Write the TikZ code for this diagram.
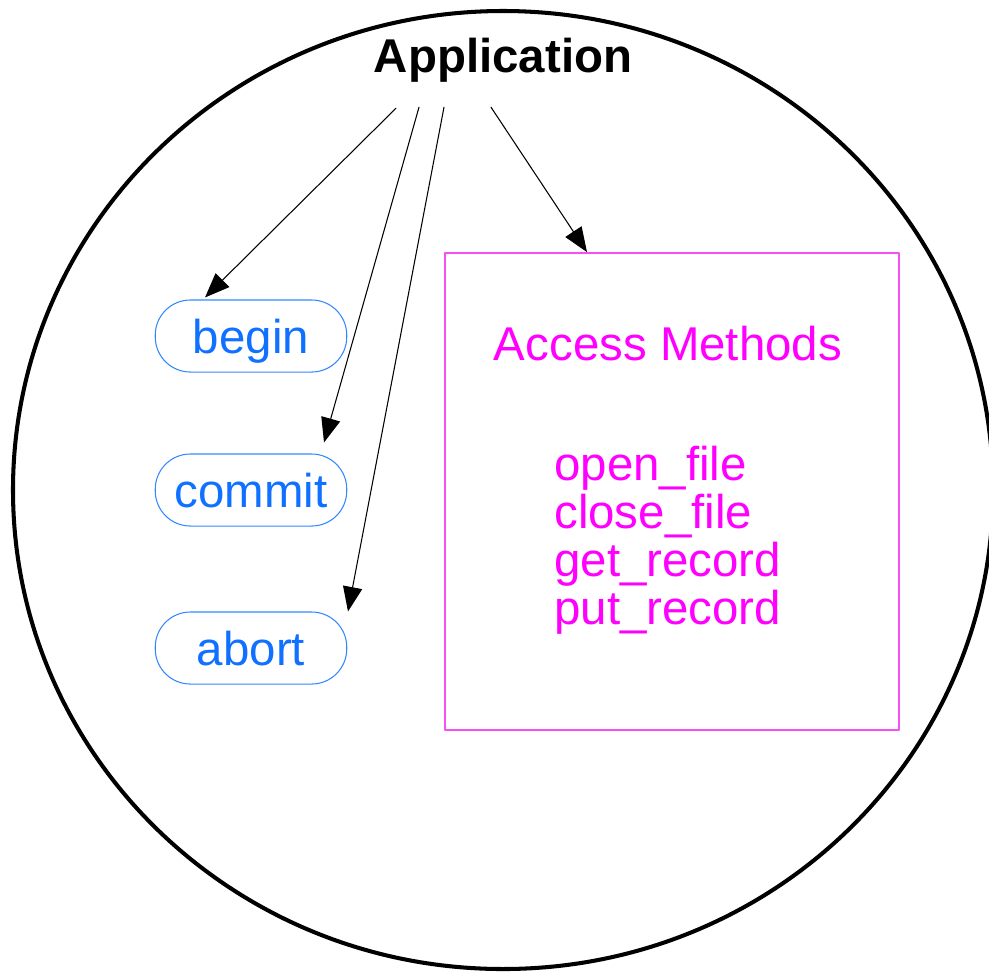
\documentclass[tikz,border=0pt]{standalone}
\usepackage{fontspec}
\setmainfont{Liberation Sans}
\usepackage{tikz}
\usetikzlibrary{arrows.meta,calc}

\definecolor{callblue}{RGB}{16,112,255}
\definecolor{pillline}{RGB}{51,136,255}
\definecolor{amagenta}{RGB}{255,0,255}
\definecolor{boxline}{RGB}{245,80,245}

\begin{document}
\begin{tikzpicture}[
				x=0.02cm,
				y=-0.02cm,
				line cap=round,
				line join=round,
				every node/.style={font=\fontsize{27}{27.2}\selectfont},
				call/.style={draw=pillline,line width=0.6pt,text=callblue,
					rounded corners=20pt,minimum width=109pt,minimum height=41pt,
					text height=23pt,text depth=3.5pt,inner sep=0pt},
				link/.style={line width=0.6pt,-{Triangle[length=14pt,width=11pt]}}
				]
				\useasboundingbox (0,0) rectangle (989,971);
				
				% the application
				\draw[line width=2.3pt] (503,490) ellipse [x radius=490, y radius=479];
				\node[anchor=base,inner sep=0pt,font=\fontsize{27}{27.2}\selectfont\bfseries] (app) at (503,72) {Application};
				
				% transaction calls
				\node[call] (begin) at (251,336) {begin};
				\node[call] (commit) at (251,490) {commit};
				\node[call] (abort) at (251,648) {abort};
				
				% access methods
				\node[draw=boxline,line width=0.9pt,minimum width=258.6pt,minimum height=271.6pt] (box) at (672,491.5) {};
				\node[anchor=base,text=amagenta,inner sep=0pt] (title) at (668,360) {Access Methods};
				\node[anchor=base west,align=left,text=amagenta,inner sep=0pt] (methods) at (554,624)
					{open\_file\\close\_file\\get\_record\\put\_record};
				
				% calls
				\draw[link] ($(app.south)+(-107,26)$) -- ($(begin.north)+(-46,-2)$);
				\draw[link] ($(app.south)+(-84,25)$) -- ($(commit.north)+(73,-11)$);
				\draw[link] ($(app.south)+(-59,25)$) -- ($(abort.north)+(97,0)$);
				\draw[link] ($(app.south)+(-12,25)$) -- ($(box.north)+(-85,0)$);
			\end{tikzpicture}
\end{document}
